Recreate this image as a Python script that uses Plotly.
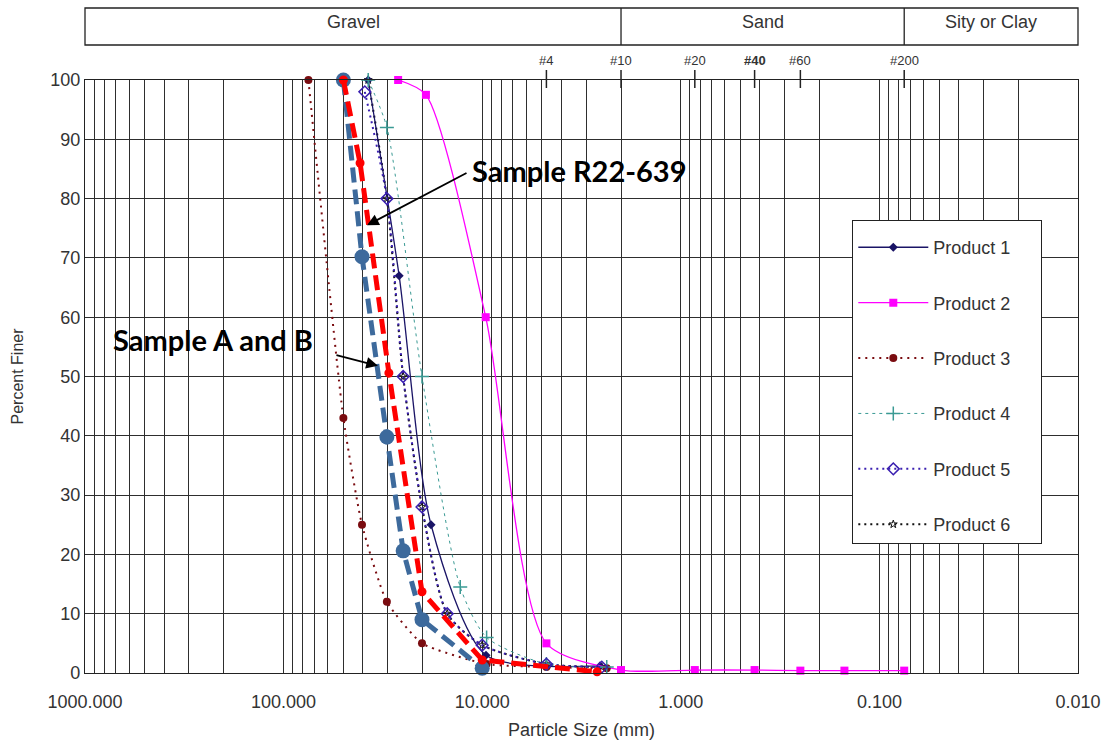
import math
import plotly.graph_objects as go

# ---------------- data ----------------
p1_size = [37.5, 26.2, 18.1, 9.57, 2.55]
p1_pct = [100, 67, 25, 3, 1.2]

p2_size = [26.5, 19.2, 9.6, 4.75, 2.0, 0.85, 0.425, 0.25, 0.15, 0.075]
p2_pct = [100, 97.5, 60, 5, 0.5, 0.5, 0.5, 0.4, 0.4, 0.4]

p3_size = [75, 50, 40.3, 30.2, 20.1, 9.5, 4.75, 2.36]
p3_pct = [100, 43, 25, 12, 5, 1.5, 1.0, 0.8]

p4_size = [37.5, 30.2, 20.1, 12.9, 9.5, 4.75, 2.36]
p4_pct = [100, 92, 50, 14.5, 6, 1.5, 1.0]

p5_size = [39.0, 30.2, 25.0, 20.1, 15.0, 10.0, 4.75, 2.5]
p5_pct = [98, 80, 50, 28, 10, 4.7, 1.5, 1.0]

p6_size = [37.5, 30.2, 25.0, 20.1, 15.0, 10.0, 4.75, 2.5]
p6_pct = [100, 80, 50, 28, 10, 4.7, 1.5, 1.0]

sab_size = [50, 40.3, 30.2, 25.0, 20.1, 10.0]
sab_pct = [100, 70.2, 39.8, 20.6, 9.0, 0.8]

r22_size = [50, 41.2, 29.5, 20.1, 10.0, 2.64]
r22_pct = [100, 86, 50.6, 13.7, 2.2, 0.2]

x_major_vals = [1000, 100, 10, 1, 0.1, 0.01]
x_major_text = ["1000.000", "100.000", "10.000", "1.000", "0.100", "0.010"]
y_ticks = [0, 10, 20, 30, 40, 50, 60, 70, 80, 90, 100]

sieve_sizes = [4.75, 2.0, 0.85, 0.425, 0.25, 0.075]
sieve_labels = ["#4", "#10", "#20", "<b>#40</b>", "#60", "#200"]

soil_classes = ["Gravel", "Sand", "Sity or Clay"]
class_bounds = [1000, 2.0, 0.075, 0.01]  # mm

# ---------------- figure ----------------
FONT = "Liberation Sans, Arial, sans-serif"
PAD = "\u00a0" * 5
fig = go.Figure()

def product(name, rank, sx, sy, color, dash, width, symbol, msize, mline=None, smooth=0.7):
    marker = dict(symbol=symbol, size=msize, color=color)
    if mline is not None:
        marker["line"] = dict(color=color, width=mline)
    fig.add_trace(go.Scatter(
        x=sx, y=sy, name=name + PAD, mode="lines+markers", legendrank=rank,
        line=dict(color=color, width=width, dash=dash, shape="spline", smoothing=smooth),
        marker=marker, legendgroup=name, cliponaxis=False))

# drawing order: product 6 underneath
product("Product 6", 6, p6_size, p6_pct, "#111111", "2px,4px", 2, "star-open", 6, 1.0)
product("Product 1", 1, p1_size, p1_pct, "#1a1466", "solid", 1.3, "diamond", 7)
product("Product 2", 2, p2_size, p2_pct, "#ff00ff", "solid", 1.3, "square", 8)
product("Product 3", 3, p3_size, p3_pct, "#7a0c10", "2px,5px", 2, "circle", 8, smooth=0.5)
product("Product 4", 4, p4_size, p4_pct, "#3a9a94", "3px,4px", 1, "cross-thin", 10, 1.5)
product("Product 5", 5, p5_size, p5_pct, "#3a1fb0", "2px,4px", 2, "diamond-open", 9, 1.5)

fig.add_trace(go.Scatter(
    x=sab_size, y=sab_pct, mode="lines+markers", showlegend=False,
    line=dict(color="#3d6a9c", width=5, dash="15px,7px"),
    marker=dict(symbol="circle", size=15, color="#3d6a9c"), cliponaxis=False))
fig.add_trace(go.Scatter(
    x=r22_size, y=r22_pct, mode="lines+markers", showlegend=False,
    line=dict(color="#ff0000", width=5, dash="15px,7px"),
    marker=dict(symbol="circle", size=9, color="#ff0000"), cliponaxis=False))

# grid positions on the log axis (decades + 2..9 minors)
grid_vals, grid_text = [], []
for e in range(-2, 3):
    for m in range(1, 10):
        v = m * 10 ** e
        grid_vals.append(v)
        grid_text.append(x_major_text[x_major_vals.index(v)] if (m == 1 and v in x_major_vals) else "")
grid_vals.append(1000)
grid_text.append(x_major_text[0])

GRID = "#2e2e2e"
fig.update_xaxes(
    type="log", range=[3, -2], tickvals=grid_vals, ticktext=grid_text,
    showgrid=True, gridcolor=GRID, gridwidth=1.3,
    showline=True, linecolor="#222", linewidth=1.3, mirror=True,
    ticks="", ticklabelstandoff=12, automargin=False,
    tickfont=dict(family=FONT, size=18, color="#333"),
    title=dict(text="Particle Size (mm)", font=dict(family=FONT, size=18, color="#333"), standoff=12),
    zeroline=False)
fig.update_yaxes(
    range=[0, 100], tickvals=y_ticks,
    showgrid=True, gridcolor=GRID, gridwidth=1.3,
    showline=True, linecolor="#222", linewidth=1.3, mirror=True,
    ticks="", ticklabelstandoff=0, automargin=False,
    tickfont=dict(family=FONT, size=18, color="#333"),
    title=dict(text="Percent Finer", font=dict(family=FONT, size=16, color="#333"), standoff=22),
    zeroline=False)

# header box with soil classes
shapes = []
Y0, Y1 = 1.059, 1.1214
shapes.append(dict(type="rect", xref="paper", yref="paper", x0=0, x1=1, y0=Y0, y1=Y1,
                   line=dict(color="#222", width=1.3), fillcolor="white", layer="above"))
annotations = []
for i, name in enumerate(soil_classes):
    if i > 0:
        b = class_bounds[i]
        shapes.append(dict(type="line", xref="x", yref="paper", x0=b, x1=b, y0=Y0, y1=Y1,
                           line=dict(color="#222", width=1.3)))
    mid = (math.log10(class_bounds[i]) + math.log10(class_bounds[i + 1])) / 2
    annotations.append(dict(x=mid, y=1.0978, xref="x", yref="paper", text=name,
                            showarrow=False, yanchor="middle",
                            font=dict(family=FONT, size=18, color="#333")))

# sieve marks at top
for s, lab in zip(sieve_sizes, sieve_labels):
    shapes.append(dict(type="line", xref="x", yref="paper", x0=s, x1=s, y0=0.9865, y1=1.0169,
                       line=dict(color="#222", width=1.5)))
    annotations.append(dict(x=math.log10(s), y=1.0337, xref="x", yref="paper", text=lab,
                            showarrow=False, yanchor="middle",
                            font=dict(family=FONT, size=13, color="#333")))

# callouts
ANN_FONT = dict(family="Lato, Open Sans, sans-serif", size=29, color="#000")
annotations.append(dict(x=1.061, y=84.8, xref="x", yref="y", text="<b>Sample R22-639</b>",
                        showarrow=False, xanchor="left", font=ANN_FONT))
annotations.append(dict(x=1.580, y=75.5, xref="x", yref="y", text="", showarrow=True,
                        ax=101, ay=-53, arrowhead=2, arrowsize=1.3, arrowwidth=1.8, arrowcolor="#000"))
annotations.append(dict(x=2.870, y=56.2, xref="x", yref="y", text="<b>Sample A and B</b>",
                        showarrow=False, xanchor="left", font=ANN_FONT))
annotations.append(dict(x=1.525, y=51.8, xref="x", yref="y", text="", showarrow=True,
                        ax=-43, ay=-11, arrowhead=2, arrowsize=1.3, arrowwidth=1.8, arrowcolor="#000"))

fig.update_layout(
    width=1102, height=745, autosize=False,
    margin=dict(l=85, r=24, t=80, b=72),
    paper_bgcolor="white", plot_bgcolor="white",
    shapes=shapes, annotations=annotations,
    legend=dict(x=0.7724, y=0.764, xanchor="left", yanchor="top",
                bgcolor="white", bordercolor="#222", borderwidth=1.3,
                font=dict(family=FONT, size=18, color="#333"),
                title=dict(text="\u00a0", font=dict(size=6)),
                tracegroupgap=29, itemwidth=70),
)

fig.write_html("out.html")
